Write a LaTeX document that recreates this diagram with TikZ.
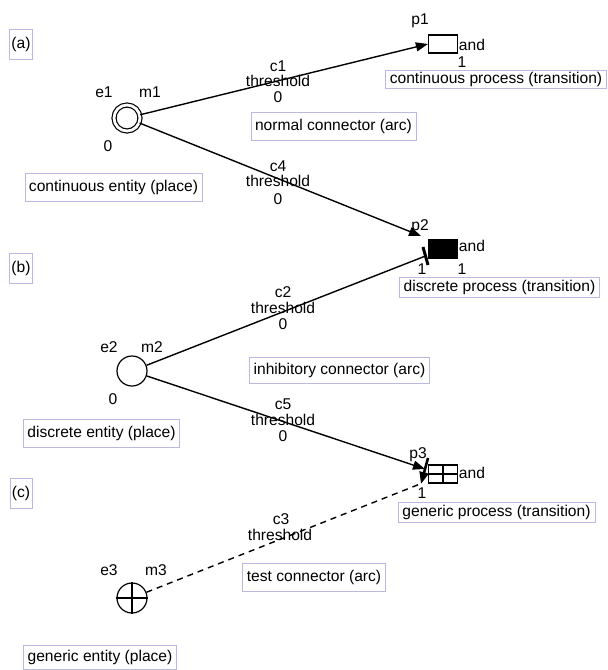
\documentclass[tikz,border=0pt]{standalone}
\usepackage{fontspec}
\setmainfont{Liberation Sans}
\usetikzlibrary{arrows.meta}
\definecolor{boxline}{RGB}{185,185,225}
\tikzset{
    tag-box/.style = {draw=boxline, thin, rectangle, inner xsep=1pt, inner ysep=0pt, minimum height=15pt},
    place-box/.style = {draw=boxline, thin, rectangle, inner xsep=2pt, inner ysep=0pt, minimum height=14pt},
    trans-box/.style = {draw=boxline, thin, rectangle, inner xsep=2.2pt, inner ysep=0pt, minimum height=10pt},
    entity/.style = {draw, circle, line width=0.6pt, minimum size=15pt, inner sep=0pt},
    process/.style = {draw, rectangle, line width=0.6pt, minimum width=14.5pt, minimum height=9pt, inner sep=0pt},
    txt/.style = {inner sep=0pt},
    arc/.style = {line width=0.7pt},
    tip/.style = {-{Triangle[length=6pt,width=4.5pt]}},
}

\begin{document}
\begin{tikzpicture}[x=0.5pt, y=-0.5pt, every node/.style={font=\fontsize{7.8}{9}\selectfont}]
\useasboundingbox (0,0) rectangle (608,670);

% section tags
\node[tag-box] (taga) at (21,44) {(a)};
\node[tag-box] (tagb) at (21,268) {(b)};
\node[tag-box] (tagc) at (21,493) {(c)};

% entities (places)
\node[entity, double, double distance=1.4pt, minimum size=13pt] (e1) at (127,118) {};
\node[entity] (e2) at (132,371) {};
\node[entity] (e3) at (132,598) {};
\draw[line width=0.6pt] (e3.north) -- (e3.south) (e3.west) -- (e3.east);

\node[txt] (e1name) at (104,92) {e1};
\node[txt] (m1) at (150,92) {m1};
\node[txt] (e1tok) at (108,146) {0};
\node[txt] (e2name) at (109,347) {e2};
\node[txt] (m2) at (152,347) {m2};
\node[txt] (e2tok) at (113,399) {0};
\node[txt] (e3name) at (109,570) {e3};
\node[txt] (m3) at (156,570) {m3};

% processes (transitions)
\node[process] (p1) at (443,44) {};
\node[process, fill=black] (p2) at (443,249) {};
\node[process] (p3) at (443,474) {};
\draw[line width=0.6pt] (p3.north) -- (p3.south) (p3.west) -- (p3.east);

\node[txt] (p1name) at (420,21) {p1};
\node[txt] (p1and) at (472,45) {and};
\node[txt] (p1out) at (462,62) {1};
\node[txt] (p2name) at (420,227) {p2};
\node[txt] (p2and) at (472,246) {and};
\node[txt] (p2in) at (422,269) {1};
\node[txt] (p2out) at (462,269) {1};
\node[txt] (p3name) at (418,455) {p3};
\node[txt] (p3and) at (472,473) {and};
\node[txt] (p3in) at (422,493) {1};

% captions
\node[place-box] (e1box) at (113.5,187.5) {continuous entity (place)};
\node[place-box] (c1box) at (333.5,126) {normal connector (arc)};
\node[trans-box, minimum height=9pt] (p1box) at (496,79.5) {continuous process (transition)};
\node[trans-box] (p2box) at (499.5,287.5) {discrete process (transition)};
\node[place-box, minimum height=13pt] (c2box) at (339.5,370) {inhibitory connector (arc)};
\node[place-box] (e2box) at (101.5,433) {discrete entity (place)};
\node[trans-box] (p3box) at (496.5,512) {generic process (transition)};
\node[place-box] (c3box) at (314,577) {test connector (arc)};
\node[place-box, minimum height=12pt] (e3box) at (100,657) {generic entity (place)};

% connector labels
\node[txt] (c1name) at (278,66) {c1};
\node[txt] (c1thr) at (278,81) {threshold};
\node[txt] (c1val) at (278,97) {0};
\node[txt] (c4name) at (278,166) {c4};
\node[txt] (c4thr) at (278,181) {threshold};
\node[txt] (c4val) at (278,199) {0};
\node[txt] (c2name) at (283,292) {c2};
\node[txt] (c2thr) at (283,308) {threshold};
\node[txt] (c2val) at (283,324) {0};
\node[txt] (c5name) at (283,404) {c5};
\node[txt] (c5thr) at (283,420) {threshold};
\node[txt] (c5val) at (283,436) {0};
\node[txt] (c3name) at (281,519) {c3};
\node[txt] (c3thr) at (280,535) {threshold};

% connectors
\coordinate (c4end) at (421,236);
\coordinate (bartop) at (423,247);
\coordinate (barbot) at (428,265);
\coordinate (c2end) at (425.5,256);
\coordinate (c5end) at (425,469);
\coordinate (testtop) at (428,458);
\coordinate (testtip) at (421,484);
\coordinate (c3end) at (420,484);

\draw[arc, tip] (e1) -- (p1.west);
\draw[arc, tip] (e1) -- (c4end);
\draw[arc] (e2) -- (c2end);
\draw[line width=1.5pt] (bartop) -- (barbot);
\draw[arc, tip] (e2) -- (c5end);
\draw[line width=1.3pt, tip] (testtop) -- (testtip);
\draw[arc, dash pattern=on 3pt off 2.5pt] (e3) -- (c3end);
\end{tikzpicture}
\end{document}
